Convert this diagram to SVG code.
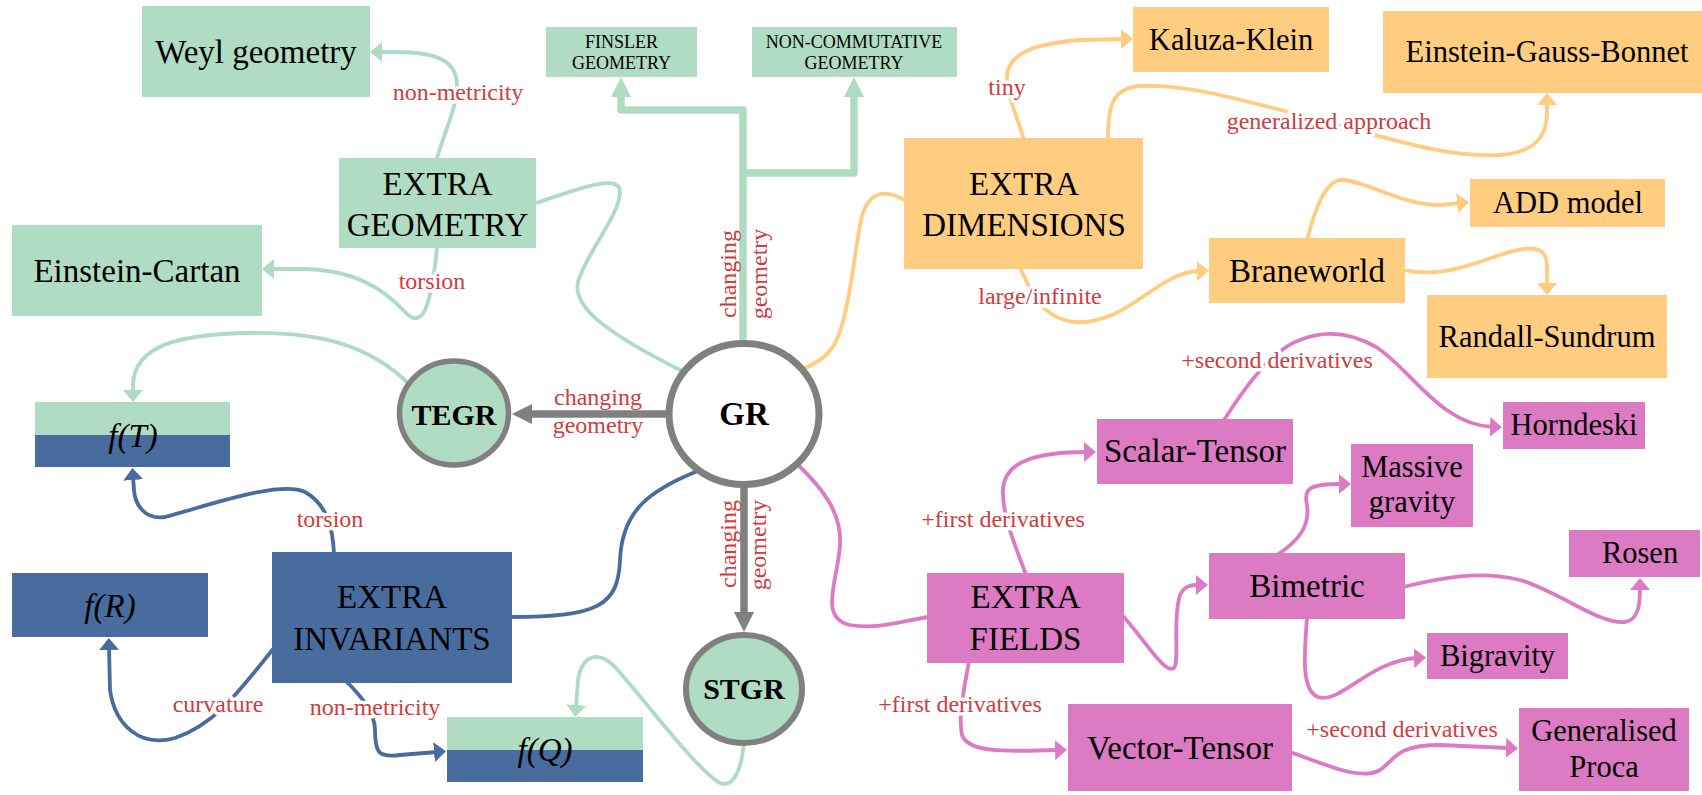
<svg xmlns="http://www.w3.org/2000/svg" width="1702" height="795" viewBox="0 0 1702 795">
<defs>
<style>
.g{fill:#B0DCC3}.o{fill:#FFCD80}.p{fill:#DC7AC4}.b{fill:#486C9E}
.t{font-family:"Liberation Serif","Times New Roman",serif;fill:#000;text-anchor:middle}
.L{font-size:33px}.M{font-size:30.5px}.S{font-size:18px}
.i{font-style:italic}.c{font-weight:bold}
.lab{font-family:"Liberation Serif","Times New Roman",serif;font-size:24px;fill:#D13B40;text-anchor:middle}
.h{stroke:#fff;stroke-width:7;paint-order:stroke;stroke-linejoin:round}
.e{fill:none;stroke-width:3.8}
.eg{stroke:#AEDBC1}.eo{stroke:#FFCC80}.ep{stroke:#DC7AC4}.eb{stroke:#486C9E}
.thick{fill:none;stroke-width:7.5;stroke-linejoin:round}
.ring{stroke:#808080}
</style>
<marker id="mg" viewBox="0 0 12 20" refX="3" refY="10" markerWidth="12" markerHeight="20" markerUnits="userSpaceOnUse" orient="auto"><path d="M0,0 L12,10 L0,20 z" fill="#AEDBC1"/></marker>
<marker id="mo" viewBox="0 0 12 20" refX="3" refY="10" markerWidth="12" markerHeight="20" markerUnits="userSpaceOnUse" orient="auto"><path d="M0,0 L12,10 L0,20 z" fill="#FFCC80"/></marker>
<marker id="mp" viewBox="0 0 12 20" refX="3" refY="10" markerWidth="12" markerHeight="20" markerUnits="userSpaceOnUse" orient="auto"><path d="M0,0 L12,10 L0,20 z" fill="#DC7AC4"/></marker>
<marker id="mb" viewBox="0 0 12 20" refX="3" refY="10" markerWidth="12" markerHeight="20" markerUnits="userSpaceOnUse" orient="auto"><path d="M0,0 L12,10 L0,20 z" fill="#486C9E"/></marker>
<marker id="tgray" viewBox="0 0 20 20" refX="1" refY="10" markerWidth="20" markerHeight="20" markerUnits="userSpaceOnUse" orient="auto"><path d="M0,0 L20,10 L0,20 z" fill="#808080"/></marker>
<marker id="tgreen" viewBox="0 0 20 20" refX="1" refY="10" markerWidth="20" markerHeight="20" markerUnits="userSpaceOnUse" orient="auto"><path d="M0,0 L20,10 L0,20 z" fill="#AEDBC1"/></marker>
</defs>
<rect width="1702" height="795" fill="#fff"/>

<g id="connectors">
<!-- green -->
<path class="e eg" marker-end="url(#mg)" d="M437,158 C446,128 457,106 457,86 C457,62 440,52 395,52 L379,52"/>
<path class="e eg" marker-end="url(#mg)" d="M437,248 C435,268 432,290 427,305 C422,320 414,322 405,312 C385,290 355,269 300,269 L271,269"/>
<path class="e eg" d="M536,203 C575,190 620,172 620,192 C620,215 585,255 578,282 C572,308 610,335 684,372"/>
<path class="e eg" marker-end="url(#mg)" d="M410,385 C370,345 320,332 250,333 C180,334 134,345 133,385 L133,393"/>
<path class="e eg" marker-end="url(#mg)" d="M744,740 C742,775 730,790 718,782 C690,762 645,700 615,667 C598,650 582,655 578,680 L576,708"/>
<path class="thick" stroke="#AEDBC1" marker-end="url(#tgreen)" d="M743,341 V110 H621 V96"/>
<path class="thick" stroke="#AEDBC1" marker-end="url(#tgreen)" d="M743,173 H854 V96"/>
<!-- gray -->
<path class="thick" stroke="#808080" marker-end="url(#tgray)" d="M667,414 H531"/>
<path class="thick" stroke="#808080" marker-end="url(#tgray)" d="M744,487 V613"/>
<!-- orange -->
<path class="e eo" marker-end="url(#mo)" d="M1024,140 C1018,118 1008,100 1007,80 C1006,55 1030,44 1080,40 L1124,39"/>
<path class="e eo" marker-end="url(#mo)" d="M1108,140 C1108,110 1110,88 1140,86 C1190,84 1240,100 1300,115 C1380,135 1440,158 1500,155 C1545,152 1547,125 1547,112 L1547,102"/>
<path class="e eo" d="M906,201 C885,188 866,190 860,225 C852,270 848,320 834,345 C826,358 815,364 800,370"/>
<path class="e eo" marker-end="url(#mo)" d="M1020,267 C1030,290 1040,318 1075,322 C1120,325 1150,285 1180,275 C1188,272 1194,271 1200,271"/>
<path class="e eo" marker-end="url(#mo)" d="M1307,240 C1315,210 1325,180 1342,180 C1365,180 1400,205 1440,205 L1460,203"/>
<path class="e eo" marker-end="url(#mo)" d="M1403,270 C1440,278 1470,265 1500,255 C1530,245 1546,245 1547,265 L1547,286"/>
<!-- pink -->
<path class="e ep" d="M795,462 C825,490 842,515 840,545 C838,580 818,618 850,625 C880,630 905,620 929,617"/>
<path class="e ep" marker-end="url(#mp)" d="M1026,575 C1015,545 1002,515 1003,490 C1004,460 1040,452 1087,452"/>
<path class="e ep" marker-end="url(#mp)" d="M969,661 C964,690 958,715 962,735 C968,752 1000,752 1058,750"/>
<path class="e ep" marker-end="url(#mp)" d="M1122,615 C1145,640 1165,675 1174,668 C1180,660 1172,620 1180,595 C1185,585 1192,585 1199,585"/>
<path class="e ep" marker-end="url(#mp)" d="M1224,420 C1240,395 1270,350 1300,340 C1325,330 1350,332 1376,347 C1410,368 1440,425 1493,427"/>
<path class="e ep" marker-end="url(#mp)" d="M1277,555 C1300,540 1310,525 1307,505 C1303,488 1310,484 1342,484"/>
<path class="e ep" marker-end="url(#mp)" d="M1403,587 C1440,578 1480,570 1520,580 C1560,592 1600,625 1625,622 C1640,620 1640,600 1640,587"/>
<path class="e ep" marker-end="url(#mp)" d="M1307,617 C1305,650 1300,690 1318,697 C1340,705 1370,660 1417,658"/>
<path class="e ep" marker-end="url(#mp)" d="M1290,752 C1320,762 1360,782 1380,770 C1395,760 1395,745 1440,745 L1509,748"/>
<!-- blue -->
<path class="e eb" d="M700,470 C650,490 622,510 620,560 C618,605 600,617 510,617"/>
<path class="e eb" marker-end="url(#mb)" d="M334,554 C333,530 328,505 305,492 C280,480 210,505 165,517 C145,520 135,505 134,490 L133,477"/>
<path class="e eb" marker-end="url(#mb)" d="M274,648 C240,690 215,725 175,738 C140,748 115,725 110,690 L109,647"/>
<path class="e eb" marker-end="url(#mb)" d="M346,681 C360,695 375,712 375,730 C375,752 378,758 400,755 L437,752"/>
</g>

<g id="node-weyl"><rect class="g" x="142" y="6" width="228" height="91"/><text class="t L" x="256" y="63">Weyl geometry</text></g>
<g id="node-finsler"><rect class="g" x="546" y="27" width="151" height="50"/><text class="t S" x="621.5" y="48">FINSLER</text><text class="t S" x="621.5" y="69">GEOMETRY</text></g>
<g id="node-noncomm"><rect class="g" x="752" y="27" width="205" height="50"/><text class="t S" x="854" y="48">NON-COMMUTATIVE</text><text class="t S" x="854" y="69">GEOMETRY</text></g>
<g id="node-extra-geometry"><rect class="g" x="339" y="158" width="197" height="90"/><text class="t L" x="437.5" y="195">EXTRA</text><text class="t L" x="437.5" y="236">GEOMETRY</text></g>
<g id="node-einstein-cartan"><rect class="g" x="12" y="225" width="250" height="91"/><text class="t L" x="137" y="282">Einstein-Cartan</text></g>
<g id="node-kaluza-klein"><rect class="o" x="1133" y="7" width="196" height="65"/><text class="t M" x="1231" y="50">Kaluza-Klein</text></g>
<g id="node-egb"><rect class="o" x="1383" y="11" width="319" height="82"/><text class="t M" x="1547" y="62">Einstein-Gauss-Bonnet</text></g>
<g id="node-extra-dimensions"><rect class="o" x="904" y="138" width="239" height="131"/><text class="t L" x="1024" y="195">EXTRA</text><text class="t L" x="1024" y="236">DIMENSIONS</text></g>
<g id="node-add"><rect class="o" x="1470" y="179" width="195" height="48"/><text class="t M" x="1568" y="213">ADD model</text></g>
<g id="node-braneworld"><rect class="o" x="1209" y="238" width="196" height="65"/><text class="t L" x="1307" y="282">Braneworld</text></g>
<g id="node-randall-sundrum"><rect class="o" x="1427" y="295" width="240" height="83"/><text class="t M" x="1547" y="347">Randall-Sundrum</text></g>
<g id="node-fT"><rect class="g" x="35" y="402" width="195" height="33"/><rect class="b" x="35" y="435" width="195" height="32"/><text class="t L i" x="133" y="447">f(T)</text></g>
<g id="node-tegr"><ellipse class="g ring" cx="454" cy="413" rx="54.5" ry="52" stroke-width="5.5"/><text class="t c" font-size="30" x="454" y="425">TEGR</text></g>
<g id="node-gr"><ellipse class="ring" fill="#fff" cx="744" cy="414" rx="75" ry="70.5" stroke-width="7"/><text class="t c" font-size="33" x="744" y="425">GR</text></g>
<g id="node-stgr"><ellipse class="g ring" cx="744" cy="689" rx="58" ry="54" stroke-width="6"/><text class="t c" font-size="30" x="744" y="699">STGR</text></g>
<g id="node-horndeski"><rect class="p" x="1503" y="402" width="142" height="47"/><text class="t M" x="1574" y="435">Horndeski</text></g>
<g id="node-scalar-tensor"><rect class="p" x="1097" y="419" width="196" height="65"/><text class="t L" x="1195" y="462">Scalar-Tensor</text></g>
<g id="node-massive-gravity"><rect class="p" x="1351" y="444" width="122" height="83"/><text class="t M" x="1412" y="477">Massive</text><text class="t M" x="1412" y="512">gravity</text></g>
<g id="node-rosen"><rect class="p" x="1569" y="530" width="131" height="47"/><text class="t M" x="1640" y="563">Rosen</text></g>
<g id="node-bimetric"><rect class="p" x="1209" y="553" width="196" height="66"/><text class="t L" x="1307" y="597">Bimetric</text></g>
<g id="node-extra-fields"><rect class="p" x="927" y="573" width="197" height="90"/><text class="t L" x="1025.5" y="608">EXTRA</text><text class="t L" x="1025.5" y="650">FIELDS</text></g>
<g id="node-extra-invariants"><rect class="b" x="272" y="552" width="240" height="131"/><text class="t L" x="392" y="608">EXTRA</text><text class="t L" x="392" y="650">INVARIANTS</text></g>
<g id="node-fR"><rect class="b" x="12" y="573" width="196" height="64"/><text class="t L i" x="110" y="617">f(R)</text></g>
<g id="node-bigravity"><rect class="p" x="1427" y="633" width="141" height="46"/><text class="t M" x="1497.5" y="666">Bigravity</text></g>
<g id="node-fQ"><rect class="g" x="447" y="717" width="196" height="33"/><rect class="b" x="447" y="750" width="196" height="32"/><text class="t L i" x="545" y="761">f(Q)</text></g>
<g id="node-vector-tensor"><rect class="p" x="1068" y="704" width="224" height="87"/><text class="t L" x="1180" y="759">Vector-Tensor</text></g>
<g id="node-proca"><rect class="p" x="1519" y="708" width="170" height="83"/><text class="t M" x="1604" y="741">Generalised</text><text class="t M" x="1604" y="777">Proca</text></g>

<g id="edge-labels">
<text class="lab h" x="458" y="100">non-metricity</text>
<text class="lab h" x="432" y="289">torsion</text>
<text class="lab" x="598" y="405">changing</text>
<text class="lab" x="598" y="433">geometry</text>
<text class="lab" transform="translate(736,274) rotate(-90)">changing</text>
<text class="lab" transform="translate(767,274) rotate(-90)">geometry</text>
<text class="lab" transform="translate(736,544) rotate(-90)">changing</text>
<text class="lab" transform="translate(766,545) rotate(-90)">geometry</text>
<text class="lab h" x="330" y="527">torsion</text>
<text class="lab h" x="218" y="712">curvature</text>
<text class="lab h" x="375" y="715">non-metricity</text>
<text class="lab h" x="1007" y="95">tiny</text>
<text class="lab h" x="1329" y="129">generalized approach</text>
<text class="lab h" x="1040" y="304">large/infinite</text>
<text class="lab h" x="1277" y="368">+second derivatives</text>
<text class="lab h" x="1003" y="527">+first derivatives</text>
<text class="lab h" x="960" y="712">+first derivatives</text>
<text class="lab h" x="1402" y="737">+second derivatives</text>
</g>
</svg>
